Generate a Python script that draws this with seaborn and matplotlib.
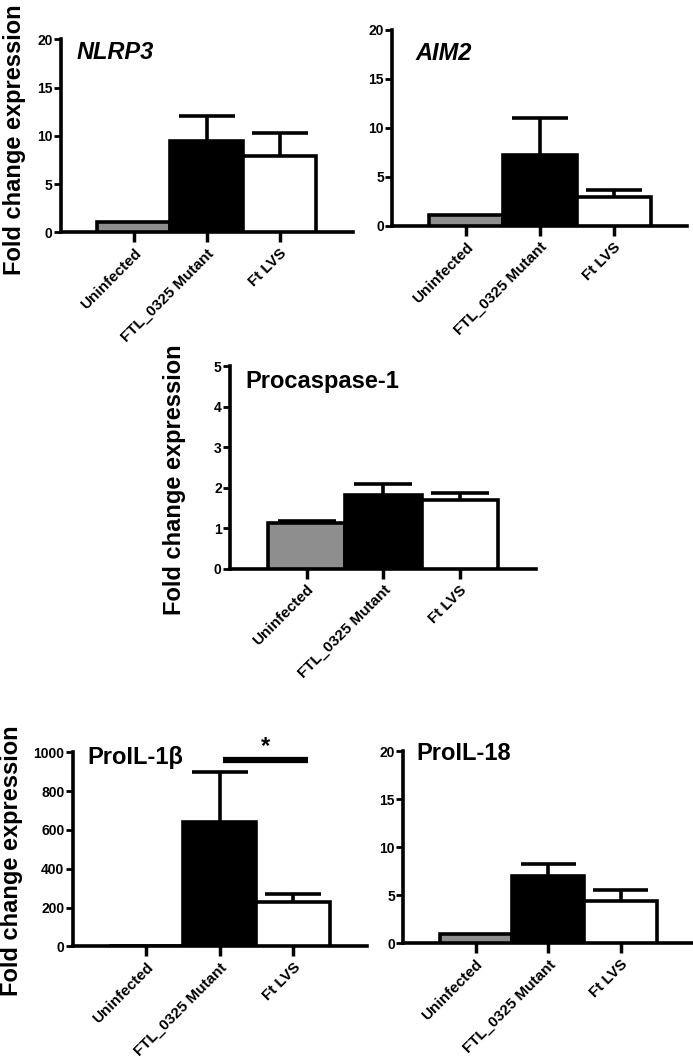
import matplotlib
matplotlib.use("Agg")
import matplotlib.pyplot as plt
import seaborn as sns
import pandas as pd
import numpy as np

# Groups and colours
groups = ["Uninfected", "FTL_0325 Mutant", "Ft LVS"]
bar_colors = ["#8e8e8e", "#000000", "#ffffff"]

# Mean fold change and upper error (SEM) per gene
nlrp3_mean = [1.1, 9.5, 7.9]
nlrp3_err = [0.0, 2.6, 2.4]
aim2_mean = [1.1, 7.2, 3.0]
aim2_err = [0.0, 3.8, 0.7]
casp1_mean = [1.12, 1.82, 1.70]
casp1_err = [0.06, 0.27, 0.17]
il1b_mean = [1.0, 639, 227]
il1b_err = [0.0, 258, 41]
il18_mean = [1.0, 7.0, 4.4]
il18_err = [0.0, 1.3, 1.1]

sns.set_style("ticks", {"axes.edgecolor": "black", "text.color": "black",
                        "axes.labelcolor": "black", "xtick.color": "black",
                        "ytick.color": "black"})
plt.rcParams["font.family"] = ["Liberation Sans", "DejaVu Sans"]
plt.rcParams["font.weight"] = "bold"

fig = plt.figure(figsize=(6.93, 10.61), dpi=100)

LW = 2.6
CAP = 0.38  # half width of error caps, in category units


def panel(rect, title, means, errs, ymax, yticks, italic=False, tpos=(0.06, 0.93)):
    ax = fig.add_axes(rect)
    df = pd.DataFrame({"group": groups, "value": means})
    sns.barplot(data=df, x="group", y="value", hue="group", palette=bar_colors,
                width=1.0, edgecolor="black", linewidth=LW, legend=False, ax=ax,
                zorder=3)
    # upper-only error bars
    xs = np.arange(len(groups))
    m = np.array(means)
    e = np.array(errs)
    show = e > 0
    ax.vlines(xs[show], m[show], m[show] + e[show], color="black", lw=LW, zorder=2)
    ax.hlines(m[show] + e[show], xs[show] - CAP, xs[show] + CAP, color="black",
              lw=LW, zorder=2)
    ax.set_xlim(-1, 3)
    ax.set_ylim(0, ymax)
    ax.set_yticks(yticks)
    ax.set_yticklabels([str(t) for t in yticks], fontsize=10, fontweight="bold")
    ax.set_xticks(xs)
    ax.set_xticklabels(groups, rotation=45, ha="right", rotation_mode="anchor",
                       fontsize=11, fontweight="bold")
    ax.set_xlabel("")
    ax.set_ylabel("")
    sns.despine(ax=ax)
    for s in ["left", "bottom"]:
        ax.spines[s].set_linewidth(LW)
        ax.spines[s].set_color("black")
    ax.tick_params(axis="y", length=5, width=2, pad=1, colors="black")
    ax.tick_params(axis="x", length=7, width=2.5, pad=3, colors="black")
    ax.text(tpos[0], tpos[1], title, transform=ax.transAxes, fontsize=17,
            fontweight="bold", style="italic" if italic else "normal",
            ha="left", va="center", color="black")
    return ax


panel([0.088, 0.781, 0.421, 0.182], "NLRP3", nlrp3_mean, nlrp3_err, 20,
      [0, 5, 10, 15, 20], italic=True, tpos=(0.055, 0.93))
panel([0.566, 0.787, 0.426, 0.185], "AIM2", aim2_mean, aim2_err, 20,
      [0, 5, 10, 15, 20], italic=True, tpos=(0.08, 0.88))
panel([0.332, 0.464, 0.442, 0.191], "Procaspase-1", casp1_mean, casp1_err, 5,
      [0, 1, 2, 3, 4, 5], tpos=(0.05, 0.926))
ax4 = panel([0.105, 0.108, 0.424, 0.183], "ProIL-1β", il1b_mean, il1b_err, 1000,
            [0, 200, 400, 600, 800, 1000], tpos=(0.05, 0.974))
panel([0.582, 0.111, 0.418, 0.181], "ProIL-18", il18_mean, il18_err, 20,
      [0, 5, 10, 15, 20], tpos=(0.045, 0.99))

# significance bar between mutant and LVS
ax4.plot([1.05, 2.2], [959, 959], color="black", lw=4.5, clip_on=False,
         solid_capstyle="butt")
ax4.text(1.62, 1030, "*", ha="center", va="center", fontsize=17,
         fontweight="bold", color="black")

# shared y labels
for x, y in [(15, 140), (175, 480), (12, 861)]:
    fig.text(x / 693, 1 - y / 1061, "Fold change expression", rotation=90,
             ha="center", va="center", fontsize=17, fontweight="bold",
             color="black")

fig.savefig("out.png", dpi=100)
